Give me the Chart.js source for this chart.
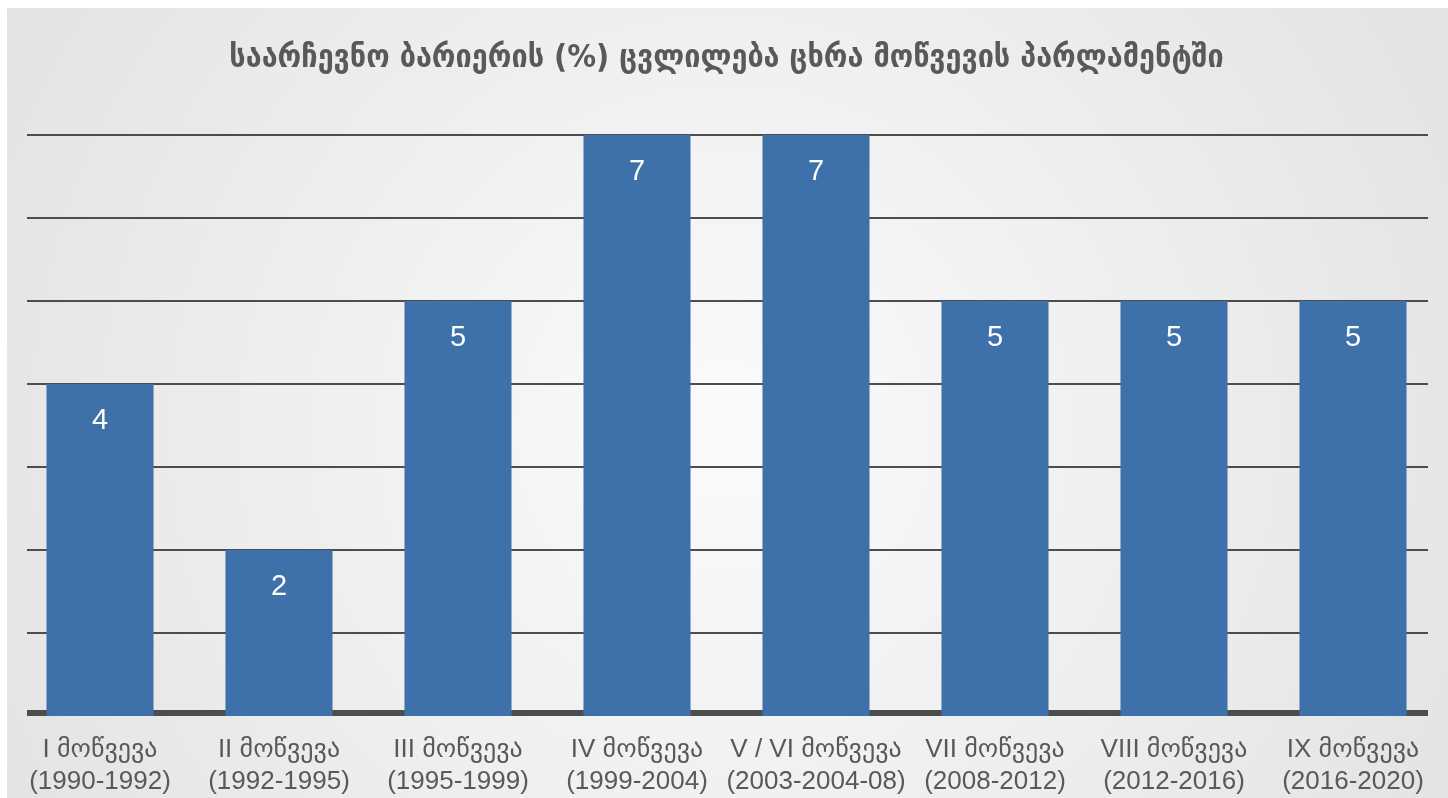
<!DOCTYPE html>
<html>
<head>
<meta charset="utf-8">
<script src="https://cdn.jsdelivr.net/npm/chart.js@4"></script>
<style>
  html, body { margin: 0; padding: 0; background: #ffffff; }
  #wrap { width: 1448px; height: 798px; position: relative; }
</style>
</head>
<body>
<div id="wrap"><canvas id="myChart"></canvas></div>
<script>
// chart data
const titleText = "საარჩევნო ბარიერის (%) ცვლილება ცხრა მოწვევის პარლამენტში";
const convocations = ["I მოწვევა", "II მოწვევა", "III მოწვევა", "IV მოწვევა", "V / VI მოწვევა", "VII მოწვევა", "VIII მოწვევა", "IX მოწვევა"];
const periods = ["(1990-1992)", "(1992-1995)", "(1995-1999)", "(1999-2004)", "(2003-2004-08)", "(2008-2012)", "(2012-2016)", "(2016-2020)"];
const thresholds = [4, 2, 5, 7, 7, 5, 5, 5];
const yTicks = [0, 1, 2, 3, 4, 5, 6, 7];

const labels = convocations.map((c, i) => [c, periods[i]]);

// grey radial background behind the chart
const backgroundPlugin = {
  id: "bg",
  beforeDraw(chart) {
    const ctx = chart.ctx;
    const w = chart.width, h = chart.height;
    const g = ctx.createRadialGradient(724, 430, 0, 724, 430, 830);
    g.addColorStop(0, "#fbfbfb");
    g.addColorStop(1, "#e3e3e3");
    ctx.save();
    ctx.fillStyle = g;
    ctx.fillRect(7, 8, w - 7, h - 8);
    ctx.restore();
  }
};

// horizontal grid lines, a bit shorter than the category band, thick base line
const gridPlugin = {
  id: "gridLines",
  beforeDatasetsDraw(chart) {
    const ctx = chart.ctx;
    const y = chart.scales.y;
    const left = chart.chartArea.left + 16.5;
    const right = chart.chartArea.right - 14.5;
    ctx.save();
    ctx.fillStyle = "#4d4d4d";
    yTicks.forEach(v => {
      const py = y.getPixelForValue(v);
      if (v === 0) {
        ctx.fillRect(left, py - 6, right - left, 6);
      } else {
        ctx.fillRect(left, py - 1, right - left, 2);
      }
    });
    ctx.restore();
  }
};

// white value labels inside the top of each bar
const valueLabels = {
  id: "valueLabels",
  afterDatasetsDraw(chart) {
    const ctx = chart.ctx;
    const meta = chart.getDatasetMeta(0);
    ctx.save();
    ctx.fillStyle = "#ffffff";
    ctx.font = "29px 'Liberation Sans', Arial, sans-serif";
    ctx.textAlign = "center";
    ctx.textBaseline = "middle";
    meta.data.forEach((bar, i) => {
      ctx.fillText(String(thresholds[i]), bar.x, bar.y + 37);
    });
    ctx.restore();
  }
};

new Chart(document.getElementById("myChart").getContext("2d"), {
  type: "bar",
  data: {
    labels: labels,
    datasets: [{
      label: "ბარიერი",
      data: thresholds,
      backgroundColor: "#3e71aa",
      barPercentage: 0.598,
      categoryPercentage: 1.0
    }]
  },
  options: {
    responsive: true,
    maintainAspectRatio: false,
    animation: false,
    layout: { padding: { left: 10.5, right: 5.5, top: 0, bottom: 0 } },
    plugins: {
      legend: { display: false },
      tooltip: { enabled: false },
      title: {
        display: true,
        text: titleText,
        color: "#595959",
        font: { family: "'DejaVu Sans Condensed', 'DejaVu Sans', sans-serif", size: 32, weight: "bold", lineHeight: 1.2 },
        padding: { top: 39, bottom: 57.6 }
      }
    },
    scales: {
      x: {
        grid: { display: false, drawTicks: false },
        border: { display: false },
        ticks: {
          color: "#595959",
          font: { family: "'Liberation Sans', Arial, 'DejaVu Sans', sans-serif", size: 26, lineHeight: 1.23 },
          padding: 18,
          maxRotation: 0,
          minRotation: 0,
          autoSkip: false
        },
        afterFit(scale) { scale.height = 82; }
      },
      y: {
        min: 0,
        max: 7,
        afterBuildTicks(axis) { axis.ticks = yTicks.map(v => ({ value: v })); },
        grid: { display: false, drawTicks: false },
        border: { display: false },
        ticks: { display: false }
      }
    }
  },
  plugins: [backgroundPlugin, gridPlugin, valueLabels]
});
</script>
</body>
</html>
